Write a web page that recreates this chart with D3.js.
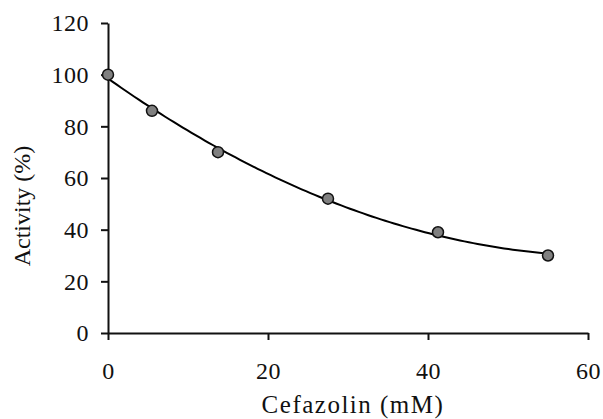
<!DOCTYPE html>
<html>
<head>
<meta charset="utf-8">
<script src="https://cdn.jsdelivr.net/npm/d3@7"></script>
<style>
  body { margin: 0; background: #fff; }
  svg text { font-family: "Liberation Serif", "Times New Roman", serif; fill: #111; }
</style>
</head>
<body>
<svg id="chart" width="603" height="419"></svg>
<script>
// measured points
const cefazolin = [0, 5.5, 13.75, 27.5, 41.25, 55];
const activity = [100, 86, 70, 52, 39, 30];
const xTicks = [0, 20, 40, 60];
const yTicks = [0, 20, 40, 60, 80, 100, 120];

const svg = d3.select("#chart");

const x = d3.scaleLinear().domain([0, 60]).range([108, 588]);
const y = d3.scaleLinear().domain([0, 120]).range([333, 23]);

// least squares quadratic trendline (like the spreadsheet one)
function quadFit(xs, ys) {
  let s = [0, 0, 0, 0, 0], t = [0, 0, 0];
  xs.forEach((xv, i) => {
    for (let k = 0; k < 5; k++) s[k] += Math.pow(xv, k);
    for (let k = 0; k < 3; k++) t[k] += ys[i] * Math.pow(xv, k);
  });
  const A = [[s[0], s[1], s[2], t[0]], [s[1], s[2], s[3], t[1]], [s[2], s[3], s[4], t[2]]];
  for (let i = 0; i < 3; i++) {
    for (let j = i + 1; j < 3; j++) {
      const f = A[j][i] / A[i][i];
      for (let k = i; k < 4; k++) A[j][k] -= f * A[i][k];
    }
  }
  const c = [0, 0, 0];
  for (let i = 2; i >= 0; i--) {
    let v = A[i][3];
    for (let k = i + 1; k < 3; k++) v -= A[i][k] * c[k];
    c[i] = v / A[i][i];
  }
  return c;
}

const coef = quadFit(cefazolin, activity);
const xMax = d3.max(cefazolin);
const trend = d3.range(0, 101).map(i => xMax * i / 100);

const line = d3.line()
  .x(d => x(d))
  .y(d => y(coef[0] + coef[1] * d + coef[2] * d * d));

// axes
const yAxis = svg.append("g")
  .attr("transform", `translate(${x(0)},0)`)
  .call(d3.axisLeft(y).tickValues(yTicks).tickSize(7).tickSizeOuter(0).tickPadding(12));

const xAxis = svg.append("g")
  .attr("transform", `translate(0,${y(0)})`)
  .call(d3.axisBottom(x).tickValues(xTicks).tickSize(7).tickSizeOuter(0).tickPadding(22));

[xAxis, yAxis].forEach(g => {
  g.attr("font-family", null);
  g.selectAll("path.domain").attr("stroke", "#111").attr("stroke-width", 2);
  g.selectAll(".tick line").attr("stroke", "#111").attr("stroke-width", 2);
  g.selectAll(".tick text").attr("fill", "#111").style("font-size", "24px").style("letter-spacing", "0.5px");
});

svg.append("path")
  .datum(trend)
  .attr("d", line)
  .attr("fill", "none")
  .attr("stroke", "#000")
  .attr("stroke-width", 2);

svg.append("g").selectAll("circle")
  .data(cefazolin.map((c, i) => ({ c, a: activity[i] })))
  .join("circle")
  .attr("cx", d => x(d.c))
  .attr("cy", d => y(d.a))
  .attr("r", 5.5)
  .attr("fill", "#808080")
  .attr("stroke", "#111")
  .attr("stroke-width", 1.5);

// titles
svg.append("text")
  .attr("x", 353)
  .attr("y", 413)
  .attr("text-anchor", "middle")
  .style("font-size", "25px")
  .attr("letter-spacing", 1.5)
  .text("Cefazolin (mM)");

svg.append("text")
  .attr("transform", "translate(30,206) rotate(-90)")
  .attr("text-anchor", "middle")
  .style("font-size", "24px")
  .text("Activity (%)");
</script>
</body>
</html>
